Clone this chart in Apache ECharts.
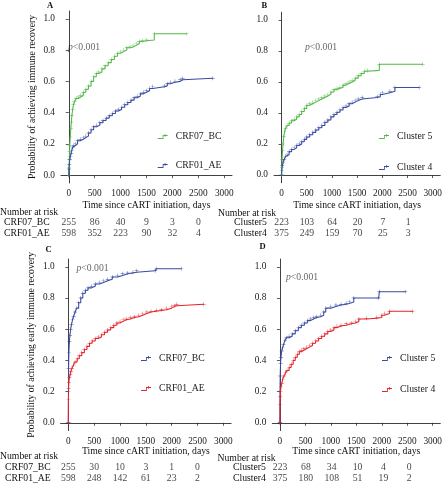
<!DOCTYPE html>
<html><head><meta charset="utf-8">
<script src="https://cdn.jsdelivr.net/npm/echarts@6/dist/echarts.min.js"></script>
<style>html,body{margin:0;padding:0;background:#fff}#c{width:445px;height:484px}</style>
</head><body><div id="c"></div>
<script>
// ---- data (time in days, cumulative probability) ----
const xTicks = [0, 500, 1000, 1500, 2000, 2500, 3000];
const yTicks = [0, 0.2, 0.4, 0.6, 0.8, 1.0];
const riskTimes = [0, 500, 1000, 1500, 2000, 2500];

const aCRF07 = [[0,0],[5,0.05],[10,0.1],[15,0.15],[20,0.19],[30,0.25],[40,0.3],[50,0.34],[60,0.38],[75,0.42],[90,0.45],[110,0.47],[140,0.49],[180,0.5],[230,0.51],[280,0.53],[330,0.55],[380,0.57],[430,0.6],[480,0.63],[530,0.65],[580,0.66],[640,0.68],[700,0.7],[760,0.72],[820,0.74],[880,0.76],[940,0.78],[1000,0.79],[1060,0.8],[1120,0.815],[1180,0.82],[1240,0.83],[1300,0.84],[1360,0.855],[1420,0.86],[1500,0.865],[1650,0.905],[2280,0.905]];
const aCRF01 = [[0,0],[5,0.04],[10,0.07],[20,0.1],[30,0.12],[45,0.14],[60,0.16],[80,0.18],[100,0.19],[130,0.2],[170,0.22],[220,0.23],[280,0.24],[330,0.25],[380,0.27],[430,0.29],[480,0.31],[540,0.32],[600,0.335],[660,0.35],[720,0.365],[780,0.38],[840,0.395],[900,0.41],[960,0.42],[1020,0.435],[1080,0.45],[1140,0.465],[1200,0.48],[1260,0.495],[1320,0.505],[1380,0.52],[1440,0.53],[1500,0.54],[1560,0.555],[1620,0.565],[1850,0.57],[1900,0.585],[1960,0.595],[2050,0.6],[2150,0.61],[2200,0.62],[2780,0.62]];
const bC5 = [[0,0],[5,0.05],[10,0.1],[20,0.16],[30,0.2],[45,0.25],[60,0.28],[80,0.3],[110,0.32],[150,0.335],[200,0.35],[250,0.36],[300,0.375],[350,0.39],[400,0.41],[450,0.43],[500,0.45],[560,0.46],[620,0.47],[680,0.48],[740,0.49],[800,0.5],[860,0.51],[920,0.52],[980,0.535],[1040,0.55],[1100,0.56],[1160,0.565],[1220,0.58],[1280,0.59],[1340,0.6],[1400,0.61],[1460,0.625],[1520,0.64],[1580,0.655],[1640,0.67],[1700,0.675],[1940,0.715],[2800,0.715]];
const bC4 = [[0,0],[5,0.03],[15,0.06],[30,0.08],[50,0.1],[80,0.12],[110,0.13],[150,0.15],[200,0.165],[250,0.175],[300,0.19],[350,0.2],[400,0.215],[450,0.23],[500,0.245],[560,0.26],[620,0.275],[680,0.29],[740,0.305],[800,0.32],[860,0.34],[920,0.355],[980,0.375],[1040,0.39],[1100,0.405],[1160,0.42],[1220,0.435],[1280,0.445],[1340,0.46],[1400,0.47],[1460,0.48],[1520,0.49],[1600,0.5],[1900,0.505],[1960,0.52],[2000,0.53],[2150,0.54],[2250,0.565],[2730,0.565]];
const cCRF07 = [[0,0],[2,0.2],[5,0.35],[10,0.45],[20,0.52],[30,0.56],[45,0.6],[60,0.63],[80,0.66],[100,0.68],[130,0.71],[160,0.735],[200,0.77],[240,0.8],[280,0.83],[330,0.85],[380,0.865],[450,0.875],[520,0.89],[600,0.9],[680,0.91],[760,0.92],[850,0.935],[950,0.945],[1050,0.955],[1150,0.96],[1250,0.965],[1320,0.975],[1680,0.975],[1700,0.988],[2190,0.988]];
const cCRF01 = [[0,0],[2,0.15],[5,0.22],[10,0.26],[20,0.29],[35,0.31],[50,0.33],[70,0.35],[100,0.37],[130,0.39],[170,0.41],[210,0.43],[260,0.45],[310,0.47],[360,0.49],[410,0.51],[460,0.525],[520,0.54],[580,0.55],[640,0.565],[700,0.58],[760,0.595],[820,0.61],[880,0.625],[940,0.64],[1000,0.65],[1060,0.66],[1120,0.665],[1200,0.675],[1280,0.68],[1360,0.69],[1440,0.7],[1520,0.71],[1600,0.715],[1700,0.72],[1800,0.725],[1900,0.735],[2000,0.745],[2050,0.75],[2100,0.76],[2620,0.76]];
const dC5 = [[0,0],[2,0.2],[5,0.3],[12,0.38],[20,0.42],[35,0.46],[50,0.48],[70,0.5],[100,0.53],[130,0.545],[180,0.555],[240,0.57],[300,0.59],[360,0.61],[420,0.625],[480,0.64],[540,0.655],[600,0.665],[660,0.675],[720,0.68],[800,0.69],[860,0.71],[900,0.735],[1000,0.745],[1100,0.755],[1200,0.76],[1300,0.765],[1360,0.775],[1450,0.8],[1940,0.8],[1950,0.84],[2460,0.84]];
const dC4 = [[0,0],[2,0.12],[5,0.17],[10,0.2],[20,0.23],[35,0.25],[55,0.28],[80,0.3],[110,0.32],[140,0.335],[180,0.355],[220,0.375],[260,0.4],[300,0.42],[340,0.44],[380,0.455],[420,0.465],[470,0.475],[520,0.485],[580,0.495],[640,0.51],[700,0.525],[760,0.54],[820,0.555],[880,0.57],[940,0.585],[1000,0.595],[1060,0.61],[1120,0.62],[1200,0.625],[1300,0.635],[1400,0.64],[1480,0.65],[1550,0.665],[1700,0.67],[1900,0.675],[2000,0.69],[2050,0.7],[2150,0.715],[2600,0.715]];

const riskA07 = [255, 86, 40, 9, 3, 0];
const riskA01 = [598, 352, 223, 90, 32, 4];
const riskB5 = [223, 103, 64, 20, 7, 1];
const riskB4 = [375, 249, 159, 70, 25, 3];
const riskC07 = [255, 30, 10, 3, 1, 0];
const riskC01 = [598, 248, 142, 61, 23, 2];
const riskD5 = [223, 68, 34, 10, 4, 0];
const riskD4 = [375, 180, 108, 51, 19, 2];

const FONT = 'Liberation Serif';
const GREEN = '#55b84a', BLUE = '#3a4ba0', RED = '#e3252b';
const plusSym = 'path://M3.6,0 H4.4 V3.6 H8 V4.4 H4.4 V8 H3.6 V4.4 H0 V3.6 H3.6 Z';
const legIcon = 'path://M0,4 H5 V1 H10 V1.8 H5.8 V4.8 H0 Z M7,0 H7.8 V2.6 H7 Z';

const mainGrids = [
  {left:61, top:11, width:171, height:172},
  {left:274, top:12.25, width:167, height:170.5},
  {left:60.6, top:259, width:170.5, height:171.6},
  {left:272.3, top:259, width:170.5, height:171.6}
];
const tabGrids = [
  {left:61, top:217, width:171, height:22},
  {left:274, top:217, width:167, height:22},
  {left:60.6, top:462, width:170.5, height:22},
  {left:272.3, top:462, width:170.5, height:22}
];
const panels = [
  {rows:['CRF07_BC','CRF01_AE'], risk:[riskA07, riskA01], curves:[aCRF07, aCRF01], colors:[GREEN, BLUE], legNames:['CRF07_BC','CRF01_AE'], yName:'Probability of achieving immune recovery', xGap:17, labStart:4, leg:{left:152.7, top:126.5, gap:19}},
  {rows:['Cluster5','Cluster4'], risk:[riskB5, riskB4], curves:[bC5, bC4], colors:[GREEN, BLUE], legNames:['Cluster 5','Cluster 4'], yName:'', xGap:18, labStart:234, leg:{left:374, top:126.5, gap:21}},
  {rows:['CRF07_BC','CRF01_AE'], risk:[riskC07, riskC01], curves:[cCRF07, cCRF01], colors:[BLUE, RED], legNames:['CRF07_BC','CRF01_AE'], yName:'Probability of achieving early immune recovery', xGap:15, labStart:5, leg:{left:136, top:348.5, gap:20}},
  {rows:['Cluster5','Cluster4'], risk:[riskD5, riskD4], curves:[dC5, dC4], colors:[BLUE, RED], legNames:['Cluster 5','Cluster 4'], yName:'', xGap:15, labStart:233, leg:{left:377, top:348.5, gap:21}}
];

const grid = [], xAxis = [], yAxis = [], series = [], legend = [];
const axisText = {color:'#222', fontFamily:FONT, fontSize:9.3};
panels.forEach((p, i) => {
  grid.push(mainGrids[i]);
  xAxis.push({gridIndex:i, type:'value', min:-150, max:3150,
    name:'Time since cART initiation, days', nameLocation:'middle', nameGap:p.xGap,
    nameTextStyle:{color:'#111', fontFamily:FONT, fontSize:9.7},
    axisLine:{lineStyle:{color:'#111', width:0.8}},
    axisTick:{customValues:xTicks, length:3, lineStyle:{color:'#333', width:0.8}},
    axisLabel:Object.assign({customValues:xTicks, margin:6, formatter:v=>String(v)}, axisText),
    splitLine:{show:false}});
  yAxis.push({gridIndex:i, type:'value', min:-0.05, max:1.05,
    name:p.yName, nameLocation:'middle', nameGap:24,
    nameTextStyle:{color:'#111', fontFamily:FONT, fontSize:9.7},
    axisLine:{show:true, lineStyle:{color:'#111', width:0.8}},
    axisTick:{show:true, customValues:yTicks, length:3, lineStyle:{color:'#333', width:0.8}},
    axisLabel:Object.assign({customValues:yTicks, margin:6, formatter:v=>v.toFixed(1)}, axisText),
    splitLine:{show:false}});
  const names = [];
  p.curves.forEach((d, k) => {
    const nm = 'P' + i + '|' + p.legNames[k];
    names.push(nm);
    series.push({type:'line', name:nm, xAxisIndex:i, yAxisIndex:i, data:d, step:'end',
      showSymbol:true, symbol:plusSym, symbolSize:4,
      lineStyle:{color:p.colors[k], width:1.05}, itemStyle:{color:p.colors[k]},
      emphasis:{disabled:true}, z:3});
  });
  legend.push({orient:'vertical', left:p.leg.left, top:p.leg.top, itemGap:p.leg.gap,
    itemWidth:10, itemHeight:5, icon:legIcon, data:names, selectedMode:false,
    formatter:n=>n.split('|')[1],
    textStyle:{color:'#222', fontFamily:FONT, fontSize:9.7, padding:[0,0,0,3]}});
});
panels.forEach((p, i) => {
  const gi = 4 + i;
  grid.push(tabGrids[i]);
  xAxis.push({gridIndex:gi, type:'value', min:-150, max:3150, show:false});
  yAxis.push({gridIndex:gi, type:'category', data:p.rows, inverse:true,
    axisLine:{show:false}, axisTick:{show:false}, splitLine:{show:false},
    axisLabel:{interval:0, hideOverlap:false, align:'left', margin:tabGrids[i].left - p.labStart, color:'#111', fontFamily:FONT, fontSize:9.7}});
  const pts = [];
  p.rows.forEach((r, k) => riskTimes.forEach((t, j) => pts.push([t, r, p.risk[k][j]])));
  series.push({type:'scatter', xAxisIndex:gi, yAxisIndex:gi, data:pts, symbolSize:1,
    itemStyle:{color:'rgba(0,0,0,0)'}, silent:true,
    label:{show:true, position:'inside', formatter:q=>String(q.value[2]), color:'#111', fontFamily:FONT, fontSize:9.7}});
});

function txt(x, y, s, extra) {
  return {type:'text', x:x, y:y, style:Object.assign({text:s, fontFamily:FONT, fontSize:9.7, fill:'#111', verticalAlign:'middle'}, extra || {})};
}
function ptxt(x, y) {
  return {type:'text', x:x, y:y, style:{text:'{i|p}{n|<0.001}', verticalAlign:'middle',
    rich:{i:{fontFamily:FONT, fontStyle:'italic', fontSize:9.7, fill:'#666'}, n:{fontFamily:FONT, fontSize:9.7, fill:'#666'}}}};
}
const graphic = [
  txt(47, 5.5, 'A', {fontWeight:'bold', fontSize:8.5}),
  txt(261.5, 5.5, 'B', {fontWeight:'bold', fontSize:8.5}),
  txt(45.5, 249.5, 'C', {fontWeight:'bold', fontSize:8.5}),
  txt(259.5, 246.5, 'D', {fontWeight:'bold', fontSize:8.5}),
  ptxt(68, 47), ptxt(305, 47.5), ptxt(76.5, 268.5), ptxt(286, 277),
  txt(0, 212, 'Number at risk'), txt(218, 213, 'Number at risk'),
  txt(0, 456.5, 'Number at risk'), txt(217.5, 458, 'Number at risk')
];

const chart = echarts.init(document.getElementById('c'), null, {renderer:'canvas'});
chart.setOption({animation:false, backgroundColor:'#fff', grid, xAxis, yAxis, series, legend, graphic});
</script></body></html>
